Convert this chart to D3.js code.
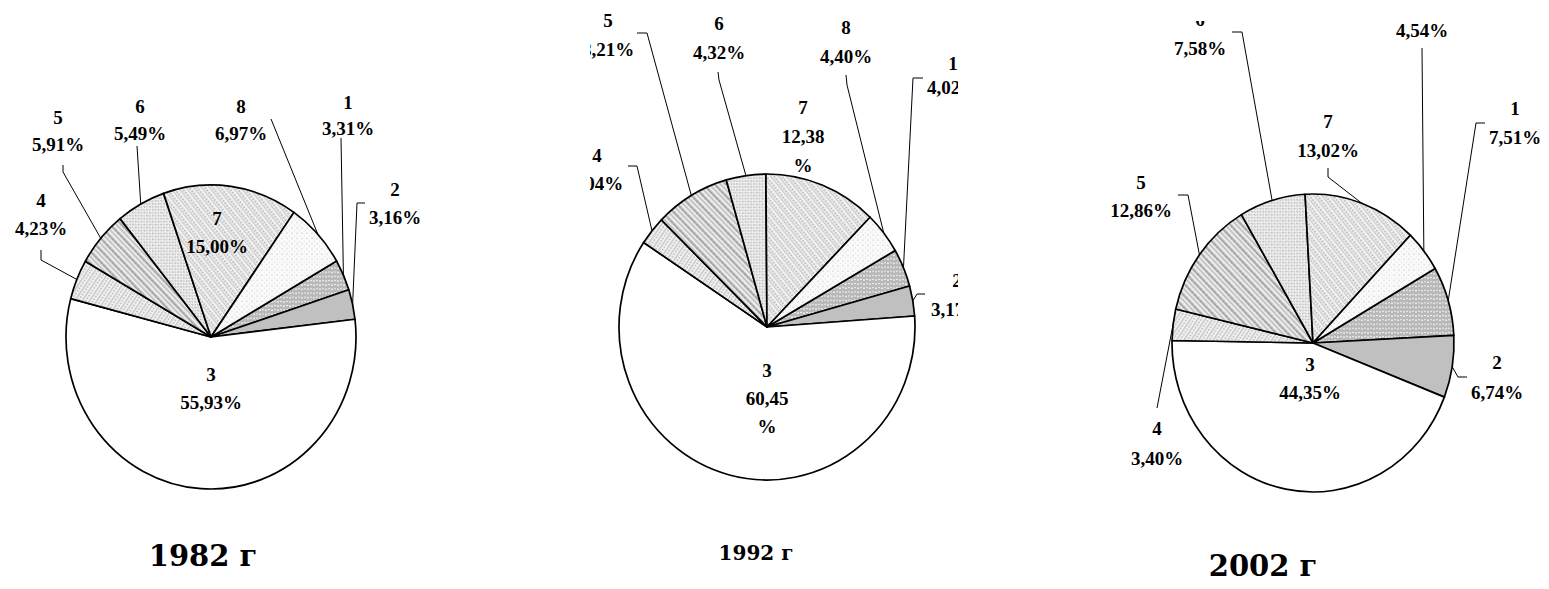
<!DOCTYPE html>
<html><head><meta charset="utf-8">
<script src="https://cdn.jsdelivr.net/npm/d3@7"></script>
<style>body{margin:0;background:#fff}svg{display:block}</style>
</head><body>
<svg id="c" width="1549" height="589"></svg>
<script>
// ---- data ----
const seriesNames = ["1","2","3","4","5","6","7","8"];
const years = ["1982 г","1992 г","2002 г"];
const values1982 = [3.31, 3.16, 55.93, 4.23, 5.91, 5.49, 15.00, 6.97];
const values1992 = [4.02, 3.17, 60.45, 3.04, 8.21, 4.32, 12.38, 4.40];
const values2002 = [7.51, 6.74, 44.35, 3.40, 12.86, 7.58, 13.02, 4.54];
const allValues = [values1982, values1992, values2002];

// ---- layout (positions / styles only) ----
const firstSliceAngle = 60; // degrees, clockwise from top
const pieLayout = [
  {cx:211, cy:337, rx:145, ry:152, clip:[0,0,560,589], title:{x:203,y:566,size:29},
   labels:[
    {x:348,y:102,dy:26,lead:[[341,138]]},
    {x:395,y:189,dy:28,lead:[[365,203],[357,203]]},
    {x:211,y:374,dy:28,inside:true},
    {x:41,y:200,dy:28,lead:[[41,250],[41,260]]},
    {x:58,y:117,dy:27,lead:[[63,165],[63,172]]},
    {x:140,y:106,dy:27,lead:[[137,146]]},
    {x:217,y:218,dy:28,inside:true},
    {x:241,y:106,dy:27,lead:[[271,119]]}
   ]},
  {cx:767, cy:327, rx:148, ry:153, clip:[590,0,368,589], title:{x:756,y:560,size:20},
   labels:[
    {x:953,y:63,dy:24,lead:[[923,78],[913,78]]},
    {x:957,y:280,dy:29,lead:[[925,294],[917,294]]},
    {x:767,y:370,dy:28,inside:true,wrap:true},
    {x:597,y:155,dy:28,lead:[[628,166],[637,166]]},
    {x:608,y:20,dy:29,lead:[[637,33],[647,33]]},
    {x:719,y:23,dy:29,lead:[[718,72],[719,80]]},
    {x:803,y:107,dy:29,wrap:true},
    {x:846,y:27,dy:29,lead:[[846,75],[847,85]]}
   ]},
  {cx:1313, cy:343, rx:141, ry:149, clip:[1090,21,459,568], title:{x:1263,y:576,size:29},
   labels:[
    {x:1515,y:108,dy:29,lead:[[1485,123],[1476,123]]},
    {x:1497,y:362,dy:30,lead:[[1467,377],[1458,377]]},
    {x:1310,y:364,dy:28,inside:true},
    {x:1157,y:428,dy:30,lead:[[1157,408]]},
    {x:1141,y:182,dy:28,lead:[[1178,195],[1188,195]]},
    {x:1200,y:19,dy:29,lead:[[1232,32],[1242,32]]},
    {x:1328,y:121,dy:29,lead:[[1328,168],[1328,177]]},
    {x:1422,y:1,dy:29,lead:[[1422,48]]}
   ]}
];

const svg = d3.select("#c");
const defs = svg.append("defs");

// ---- hatch patterns ----
function pat(id, w, h, bg, draw, rot) {
  const p = defs.append("pattern").attr("id", id).attr("patternUnits","userSpaceOnUse")
    .attr("width", w).attr("height", h);
  if (rot) p.attr("patternTransform", `rotate(${rot})`);
  p.append("rect").attr("width", w).attr("height", h).attr("fill", bg);
  draw(p);
}
// slice 1: gray with white wavy dashes
pat("p1", 6, 4, "#b8b8b8", p => {
  p.append("rect").attr("x",0).attr("y",2).attr("width",2).attr("height",1).attr("fill","#fff");
  p.append("rect").attr("x",3).attr("y",1.5).attr("width",2).attr("height",1).attr("fill","#eeeeee");
});
// slice 2: solid gray
pat("p2", 4, 4, "#c0c0c0", p => {});
// slice 3: white
pat("p3", 4, 4, "#ffffff", p => {});
// slice 4: light upward diagonal with dots
pat("p4", 6, 6, "#f2f2f2", p => {
  p.append("rect").attr("x",0).attr("y",0).attr("width",1.4).attr("height",6).attr("fill","#c6c6c6");
  p.append("circle").attr("cx",3.6).attr("cy",1.5).attr("r",0.9).attr("fill","#b8b8b8");
  p.append("circle").attr("cx",3.6).attr("cy",4.5).attr("r",0.9).attr("fill","#b8b8b8");
}, 35);
// slice 5: downward diagonal lines alternating solid light and dotted dark
pat("p5", 8, 4, "#eeeeee", p => {
  p.append("rect").attr("x",0).attr("y",0).attr("width",1.7).attr("height",4).attr("fill","#c2c2c2");
  p.append("circle").attr("cx",4.6).attr("cy",1).attr("r",1.25).attr("fill","#a2a2a2");
  p.append("circle").attr("cx",4.6).attr("cy",3).attr("r",1.25).attr("fill","#aaaaaa");
}, -45);
// slice 6: small weave / grid
pat("p6", 4, 4, "#f0f0f0", p => {
  p.append("rect").attr("x",0).attr("y",0).attr("width",1).attr("height",2).attr("fill","#b4b4b4");
  p.append("rect").attr("x",2).attr("y",2).attr("width",1).attr("height",2).attr("fill","#bcbcbc");
  p.append("rect").attr("x",1).attr("y",1).attr("width",1).attr("height",1).attr("fill","#d0d0d0");
}, -45);
// slice 7: dotted diagonal crosshatch
pat("p7", 6, 6, "#f1f1f1", p => {
  p.append("rect").attr("x",0).attr("y",0).attr("width",1.1).attr("height",6).attr("fill","#c8c8c8");
  p.append("circle").attr("cx",3).attr("cy",1.5).attr("r",0.95).attr("fill","#b0b0b0");
  p.append("circle").attr("cx",3).attr("cy",4.5).attr("r",0.95).attr("fill","#b0b0b0");
}, -40);
// slice 8: sparse light dots
pat("p8", 5, 5, "#fafafa", p => {
  p.append("circle").attr("cx",1).attr("cy",1).attr("r",0.7).attr("fill","#d4d4d4");
  p.append("circle").attr("cx",3.5).attr("cy",3.5).attr("r",0.6).attr("fill","#dedede");
});
const fills = seriesNames.map((d,i) => `url(#p${i+1})`);

const fmt = v => d3.format(".2f")(v).replace(".", ",") + "%";
const FONT = "'Liberation Serif','Times New Roman',serif";
const TITLE_FONT = "'DejaVu Serif','Liberation Serif',serif";

pieLayout.forEach((L, k) => {
  const values = allValues[k];
  const cp = defs.append("clipPath").attr("id", "clip" + k);
  cp.append("rect").attr("x", L.clip[0]).attr("y", L.clip[1]).attr("width", L.clip[2]).attr("height", L.clip[3]);
  const g = svg.append("g").attr("clip-path", `url(#clip${k})`);

  const a0 = firstSliceAngle * Math.PI / 180;
  const pie = d3.pie().sort(null).value(d => d).startAngle(a0).endAngle(a0 + 2 * Math.PI);
  const arcs = pie(values);
  const arc = d3.arc().innerRadius(0).outerRadius(L.rx);

  const pg = g.append("g").attr("transform", `translate(${L.cx},${L.cy}) scale(1,${L.ry / L.rx})`);
  pg.selectAll("path.slice").data(arcs).join("path")
    .attr("class", "slice")
    .attr("d", arc)
    .attr("fill", (d, i) => fills[i])
    .attr("stroke", "#000")
    .attr("stroke-width", 1.7)
    .attr("stroke-linejoin", "round")
    .attr("vector-effect", "non-scaling-stroke");

  // leader lines
  arcs.forEach((d, i) => {
    const lab = L.labels[i];
    if (!lab.lead) return;
    const mid = (d.startAngle + d.endAngle) / 2;
    const end = [L.cx + L.rx * Math.sin(mid), L.cy - L.ry * Math.cos(mid)];
    const pts = lab.lead.concat([end]);
    g.append("path").attr("d", d3.line()(pts))
      .attr("fill", "none").attr("stroke", "#000").attr("stroke-width", 1);
  });

  // labels
  arcs.forEach((d, i) => {
    const lab = L.labels[i];
    const pct = fmt(values[i]);
    const lines = [seriesNames[i]].concat(lab.wrap ? [pct.slice(0, -1), "%"] : [pct]);
    const t = g.append("text").attr("text-anchor", "middle")
      .attr("font-family", FONT).attr("font-weight", "bold").attr("font-size", 19)
      .attr("fill", "#000");
    lines.forEach((s, j) => {
      t.append("tspan").attr("x", lab.x).attr("y", lab.y + j * lab.dy)
        .attr("dominant-baseline", "central").text(s);
    });
  });

  svg.append("text").attr("x", L.title.x).attr("y", L.title.y)
    .attr("text-anchor", "middle").attr("font-family", TITLE_FONT).attr("font-weight", "bold")
    .attr("font-size", L.title.size).attr("fill", "#000").text(years[k]);
});
</script>
</body></html>
